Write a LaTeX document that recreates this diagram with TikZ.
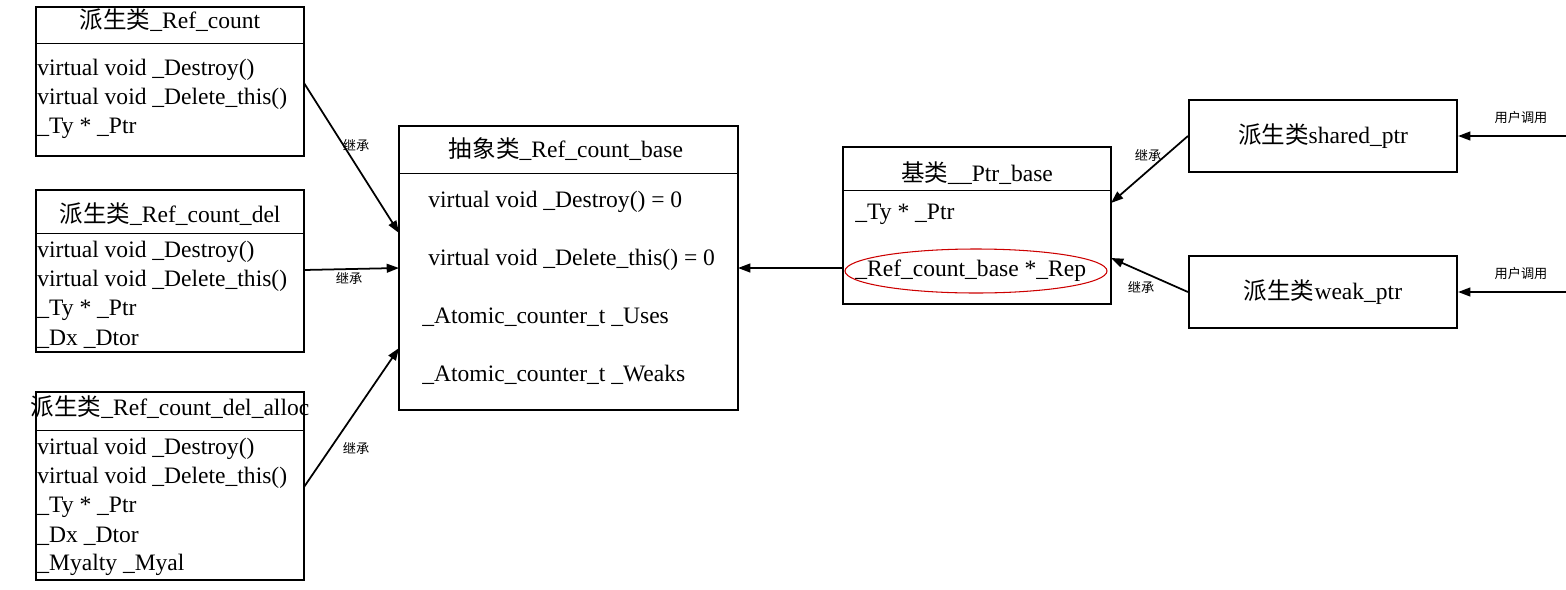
\documentclass[tikz,border=0pt]{standalone}
\usepackage{fontspec}
\setmainfont{Liberation Serif}
\newfontfamily\cjk{Noto Sans CJK SC}
\usetikzlibrary{arrows.meta}
\begin{document}
\begin{tikzpicture}[x=0.02cm,y=-0.02cm,
 box/.style={draw,line width=1.2pt},
 txt/.style={anchor=west,inner sep=0,font=\fontsize{13.4}{15}\selectfont},
 ttl/.style={inner sep=0,font=\fontsize{13.4}{15}\selectfont},
 lab/.style={inner sep=0,font=\fontsize{7.5}{8}\cjk},
 arr/.style={-{Triangle[length=7pt,width=5pt]},line width=1pt}]
\useasboundingbox (0,0) rectangle (1566,589);
% A
\draw[box] (36,7) rectangle (304,156); \draw (36,43)--(304,43);
\node[ttl] (at) at (170,20) {{\cjk 派生类}\_Ref\_count};
\node[txt] (a1) at (37,70) {virtual void \_Destroy()};
\node[txt] (a2) at (37,99) {virtual void \_Delete\_this()};
\node[txt] (a3) at (37,128) {\_Ty * \_Ptr};
% B
\draw[box] (36,190) rectangle (304,352); \draw (36,233)--(304,233);
\node[ttl] (bt) at (170,214) {{\cjk 派生类}\_Ref\_count\_del};
\node[txt] (b1) at (37,252) {virtual void \_Destroy()};
\node[txt] (b2) at (37,281) {virtual void \_Delete\_this()};
\node[txt] (b3) at (37,310) {\_Ty * \_Ptr};
\node[txt] (b4) at (37,339) {\_Dx \_Dtor};
% C
\draw[box] (36,392) rectangle (304,580); \draw (36,430)--(304,430);
\node[ttl] (ct) at (170,407) {{\cjk 派生类}\_Ref\_count\_del\_alloc};
\node[txt] (c1) at (37,449) {virtual void \_Destroy()};
\node[txt] (c2) at (37,478) {virtual void \_Delete\_this()};
\node[txt] (c3) at (37,507) {\_Ty * \_Ptr};
\node[txt] (c4) at (37,536) {\_Dx \_Dtor};
\node[txt] (c5) at (37,565) {\_Myalty \_Myal};
% D
\draw[box] (399,126) rectangle (738,410); \draw (399,173)--(738,173);
\node[ttl] (dt) at (566,149) {{\cjk 抽象类}\_Ref\_count\_base};
\node[txt] (d1) at (428,202) {virtual void \_Destroy() = 0};
\node[txt] (d2) at (428,260) {virtual void \_Delete\_this() = 0};
\node[txt] (d3) at (422,317) {\_Atomic\_counter\_t \_Uses};
\node[txt] (d4) at (422,375) {\_Atomic\_counter\_t \_Weaks};
% E
\draw[box] (843,147) rectangle (1111,304); \draw (843,190)--(1111,190);
\node[ttl] (et) at (977,173) {{\cjk 基类}\_\_Ptr\_base};
\node[txt] (e1) at (855,214) {\_Ty * \_Ptr};
\node[txt] (e2) at (855,271) {\_Ref\_count\_base *\_Rep};
\draw[red!80!black,line width=0.6pt] (976,271) ellipse [x radius=131,y radius=22];
% F G
\node[box,minimum width=268*0.02cm,minimum height=72*0.02cm,font=\fontsize{13.4}{15}\selectfont] (f) at (1323,136) {{\cjk 派生类}shared\_ptr};
\node[box,minimum width=268*0.02cm,minimum height=72*0.02cm,font=\fontsize{13.4}{15}\selectfont] (g) at (1323,292) {{\cjk 派生类}weak\_ptr};
\coordinate (fi) at (1566,136); \coordinate (gi) at (1566,292);
% arrows
\draw[arr] (304,83) -- (399,233);
\draw[arr] (304,270) -- (399,268);
\draw[arr] (304,487) -- (399,348);
\draw[arr] (843,268) -- (738,268);
\draw[arr] (f.west) -- (1111,203);
\draw[arr] (g.west) -- (1111,258);
\draw[arr] (fi) -- (f.east);
\draw[arr] (gi) -- (g.east);
\node[lab] at (356,145) {继承};
\node[lab] at (349,278) {继承};
\node[lab] at (356,448) {继承};
\node[lab] at (1148,155) {继承};
\node[lab] at (1141,287) {继承};
\node[lab] at (1521,117) {用户调用};
\node[lab] at (1521,273) {用户调用};
\end{tikzpicture}
\end{document}
